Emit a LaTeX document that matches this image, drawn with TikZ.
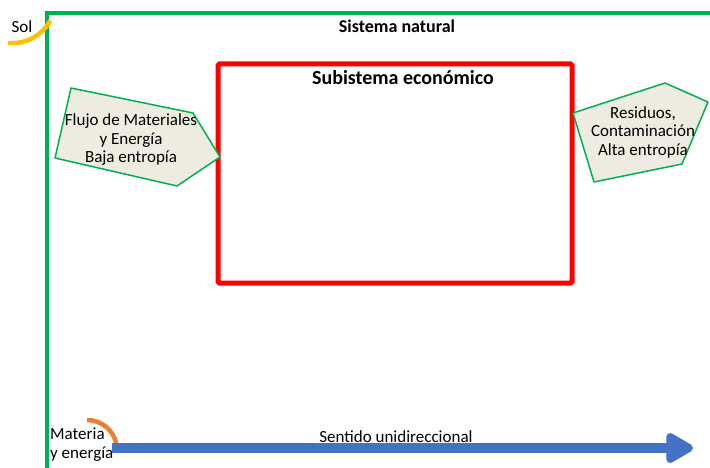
\documentclass[tikz,border=0pt]{standalone}
\usepackage{fontspec}
\setmainfont{Carlito}
\usetikzlibrary{arrows.meta}
\definecolor{natgreen}{HTML}{00B050}
\definecolor{ecored}{HTML}{FF0000}
\definecolor{flowfill}{HTML}{EEECE1}
\definecolor{solyellow}{HTML}{FFC000}
\definecolor{matorange}{HTML}{ED7D31}
\definecolor{dirblue}{HTML}{4472C4}
\begin{document}
\begin{tikzpicture}[
  x=1pt, y=-1pt,
  every node/.style={inner sep=0pt, text=black, font=\fontsize{17}{18.5}\selectfont},
  title/.style={font=\fontsize{18}{20}\selectfont\bfseries},
  flow/.style={draw=natgreen, line width=1.5pt, fill=flowfill, line join=round}
]
  \useasboundingbox (0,0) rectangle (710,468);
  % natural system frame and economic subsystem
  \draw[natgreen, line width=4pt] (47,13) rectangle (716,470.5);
  \draw[ecored, line width=5pt, rounded corners=1.5pt] (218,64) rectangle (572,283);
  % input and output flows
  \draw[flow] (71,88) -- (193,113) -- (220,157) -- (177,186) -- (55,158) -- cycle;
  \draw[flow] (573,113) -- (665,83) -- (708,102) -- (682,164) -- (594,182) -- cycle;
  % sun and matter
  \draw[solyellow, line width=4.5pt] (8,43) arc[start angle=95, end angle=29, radius=44];
  \draw[matorange, line width=4.5pt] (87,420) arc[start angle=-90, end angle=-13, radius=30];
  \node[title] (natural) at (397,26) {Sistema natural};
  \node[title, font=\fontsize{20}{22}\selectfont\bfseries] (econ) at (403,78) {Subistema económico};
  \node (sol) at (22,27) {Sol};
  \node[align=center] (input) at (131,140) {Flujo de Materiales\\y Energía\\Baja entropía};
  \node[align=center] (output) at (643,132) {Residuos,\\Contaminación\\Alta entropía};
  \node[align=left, anchor=north west] (matter) at (50,428) {Materia\\y energía};
  \node (direction) at (396,437) {Sentido unidireccional};
  \coordinate (start) at (112,448);
  \coordinate (end) at (693,448);
  \draw[dirblue, line width=10pt, -{Triangle[length=31pt, width=33pt, round]}] (start) -- (end);
\end{tikzpicture}
\end{document}
